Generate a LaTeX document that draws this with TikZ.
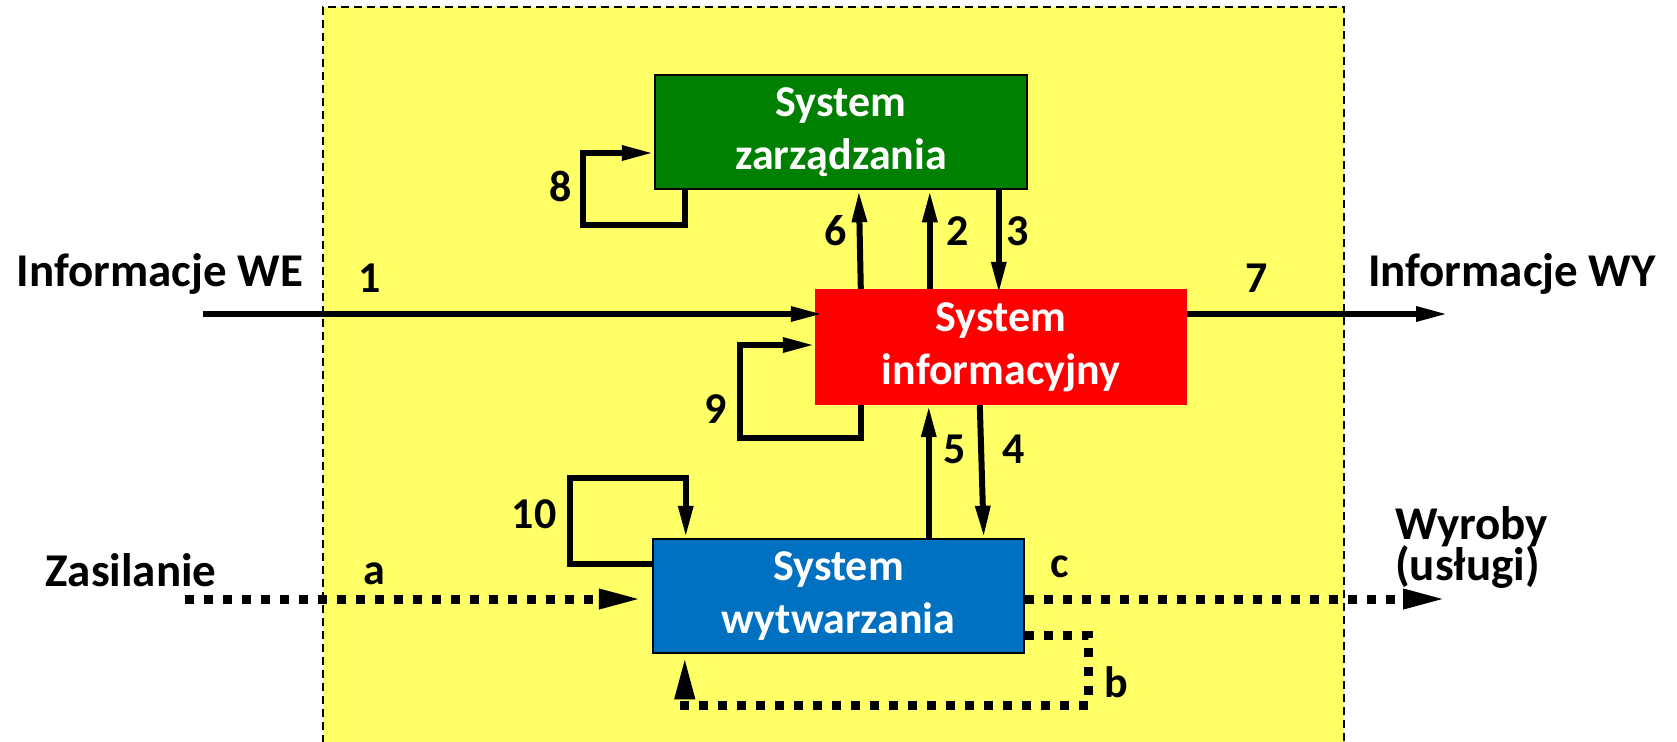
\documentclass[tikz,border=0pt]{standalone}
\usepackage{fontspec}
\setmainfont{Carlito}
\usetikzlibrary{arrows.meta}

\definecolor{envyellow}{RGB}{255,255,102}
\definecolor{mgmtgreen}{RGB}{0,128,0}
\definecolor{infored}{RGB}{255,0,0}
\definecolor{prodblue}{RGB}{0,112,192}

\begin{document}
\begin{tikzpicture}[x=1pt,y=-1pt,
  envbox/.style={fill=envyellow, draw=black, line width=2pt, dash pattern=on 8pt off 5pt,
    minimum width=1021pt, minimum height=753pt, inner sep=0pt},
  sysbox/.style={minimum width=372pt, minimum height=115pt, inner sep=0pt, align=center,
    text=white, font=\fontsize{44pt}{53pt}\selectfont\bfseries},
  numlbl/.style={font=\fontsize{44pt}{53pt}\selectfont\bfseries, anchor=base, inner sep=0pt},
  extlbl/.style={font=\fontsize{47pt}{40pt}\selectfont\bfseries, anchor=base, inner sep=0pt},
  flow/.style={line width=6pt, -{Triangle[length=32pt,width=14pt]}},
  goods/.style={line width=9pt, dash pattern=on 9pt off 10pt, -{Triangle[length=45pt,width=18pt]}},
]
\useasboundingbox (0,0) rectangle (1677,741);

% environment of the enterprise
\node[envbox] (env) at (833.5,383.5) {};

% the three subsystems
\node[sysbox, fill=mgmtgreen, draw=black, line width=2.5pt, minimum height=114pt]
  (zarz) at (841,132) {System\\zarządzania};
\node[sysbox, fill=infored, minimum height=116pt]
  (sysinf) at (1001,347) {System\\informacyjny};
\node[sysbox, fill=prodblue, draw=black, line width=2.5pt, minimum width=371pt, minimum height=114pt]
  (prod) at (838.5,596) {System\\wytwarzania};

% free ends of the external flows
\coordinate (srcWE) at (203,314);
\coordinate (dstWY) at (1448,314);
\coordinate (srcA) at (185,599);
\coordinate (dstC) at (1448,599);

% information flows
\draw[flow, shorten >=-8pt] (srcWE) -- (srcWE -| sysinf.west);
\draw[flow] (sysinf.east |- dstWY) -- (dstWY);
\draw[flow] ([xshift=46pt]sysinf.north west) -- ([xshift=44pt]sysinf.north west |- zarz.south);
\draw[flow] ([xshift=115pt]sysinf.north west) -- ([xshift=115pt]sysinf.north west |- zarz.south);
\draw[flow, shorten >=-5pt] ([xshift=184pt]sysinf.north west |- zarz.south) -- ([xshift=184pt]sysinf.north west);
\draw[flow] ([xshift=277pt]prod.north west) -- ([xshift=277pt]prod.north west |- sysinf.south);
\draw[flow] ([xshift=165pt]sysinf.south west) -- ([xshift=332pt]prod.north west);

% feedback loops
\draw[flow] ([xshift=31pt]zarz.south west) -- ++(0,35)
  -| ([xshift=-71pt,yshift=-21pt]zarz.west) -- ([yshift=-21pt]zarz.west);
\draw[flow] ([xshift=46pt]sysinf.south west) -- ++(0,33)
  -| ([xshift=-75pt,yshift=2pt]sysinf.west) -- ([yshift=2pt]sysinf.west);
\draw[flow] ([yshift=32pt]prod.west) -- ++(-82,0)
  |- ([xshift=34pt,yshift=60pt]prod.north west) -- ([xshift=34pt]prod.north west);

% material flows
\draw[goods, shorten >=8pt] (srcA) -- (srcA -| prod.west);
\draw[goods] (prod.east |- dstC) -- (dstC);
\draw[goods] ([yshift=-39pt]prod.east) -- ++(63,0) -- ++(0,70)
  -| ([xshift=33pt]prod.south west);

% external labels
\node[extlbl] (lblWE) at (160,286) {Informacje WE};
\node[extlbl] (lblWY) at (1512,286) {Informacje WY};
\node[extlbl] (lblZas) at (131,586) {Zasilanie};
\node[extlbl, anchor=base west, align=left] (lblWyr) at (1395,580) {Wyroby\\[-3pt](usługi)};

% flow numbers
\node[numlbl] (n1) at (370,292) {1};
\node[numlbl] (n2) at (958,245) {2};
\node[numlbl] (n3) at (1018,245) {3};
\node[numlbl] (n4) at (1014,463) {4};
\node[numlbl] (n5) at (955,463) {5};
\node[numlbl] (n6) at (836,245) {6};
\node[numlbl] (n7) at (1257,292) {7};
\node[numlbl] (n8) at (561,201) {8};
\node[numlbl] (n9) at (716,423) {9};
\node[numlbl] (n10) at (534,528) {10};
\node[numlbl] (na) at (374,584) {a};
\node[numlbl] (nb) at (1116,697) {b};
\node[numlbl] (nc) at (1060,577) {c};
\end{tikzpicture}
\end{document}
